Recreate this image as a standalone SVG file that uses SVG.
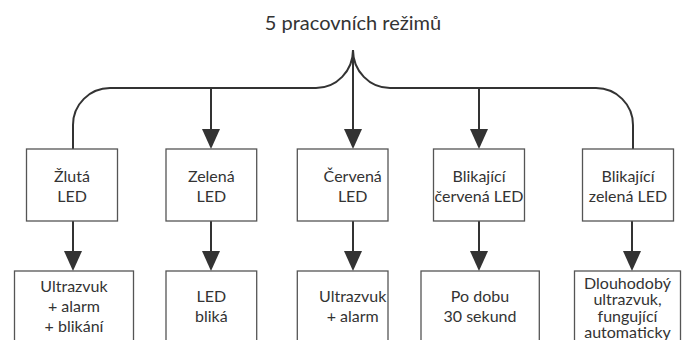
<svg xmlns="http://www.w3.org/2000/svg" width="684" height="340" viewBox="0 0 684 340">
<style>
  .box { fill: #ffffff; stroke: #555555; stroke-width: 1.3; }
  .t { font-family: Lato, "Liberation Sans", sans-serif; font-size: 16px; fill: #333333; text-anchor: middle; }
  .title { font-size: 20px; }
  .c { fill: none; stroke: #333333; stroke-width: 2; }
</style>
<defs>
  <marker id="ah" markerUnits="userSpaceOnUse" markerWidth="22" markerHeight="20" refX="0" refY="9" orient="auto" viewBox="0 0 22 18">
    <path d="M0,0 L20,9 L0,18 Z" fill="#333333"/>
  </marker>
</defs>
<rect width="684" height="340" fill="#ffffff"/>
<text class="t title" x="353" y="30">5 pracovních režimů</text>
<g id="connectors">
  <path class="c" d="M353,50 A37,38 0 0 1 316,88 H110 A37,37 0 0 0 73,125 V149"/>
  <path class="c" d="M353,50 A37,38 0 0 0 390,88 H596 A37,37 0 0 1 633,125 V149"/>
  <path class="c" d="M353,50 V129" marker-end="url(#ah)"/>
  <path class="c" d="M211,88 V129" marker-end="url(#ah)"/>
  <path class="c" d="M479,88 V129" marker-end="url(#ah)"/>
  <path class="c" d="M73,221 V251" marker-end="url(#ah)"/>
  <path class="c" d="M211,221 V251" marker-end="url(#ah)"/>
  <path class="c" d="M353,221 V251" marker-end="url(#ah)"/>
  <path class="c" d="M479,221 V251" marker-end="url(#ah)"/>
  <path class="c" d="M632,221 V251" marker-end="url(#ah)"/>
</g>
<g id="n1">
  <rect class="box" x="26.5" y="149" width="91" height="72"/>
  <text class="t" x="72" y="181.5">Žlutá</text>
  <text class="t" x="72" y="201.5">LED</text>
</g>
<g id="n2">
  <rect class="box" x="166" y="149" width="90.7" height="72"/>
  <text class="t" x="211.3" y="181.5">Zelená</text>
  <text class="t" x="211.3" y="201.5">LED</text>
</g>
<g id="n3">
  <rect class="box" x="297.3" y="149" width="90.7" height="72"/>
  <text class="t" x="352.7" y="181.5">Červená</text>
  <text class="t" x="352.7" y="201.5">LED</text>
</g>
<g id="n4">
  <rect class="box" x="433.5" y="149" width="91" height="72"/>
  <text class="t" x="479" y="181.5">Blikající</text>
  <text class="t" x="479" y="201.5">červená LED</text>
</g>
<g id="n5">
  <rect class="box" x="582.5" y="149" width="91" height="72"/>
  <text class="t" x="628" y="181.5">Blikající</text>
  <text class="t" x="628" y="201.5">zelená LED</text>
</g>
<g id="m1">
  <rect class="box" x="14.5" y="271" width="119" height="90"/>
  <text class="t" x="74" y="292">Ultrazvuk</text>
  <text class="t" x="74" y="312.3">+ alarm</text>
  <text class="t" x="74" y="331.5">+ blikání</text>
</g>
<g id="m2">
  <rect class="box" x="166" y="271" width="90.7" height="90"/>
  <text class="t" x="211.3" y="301.7">LED</text>
  <text class="t" x="211.3" y="322">bliká</text>
</g>
<g id="m3">
  <rect class="box" x="297.3" y="271" width="90.7" height="90"/>
  <text class="t" x="352.7" y="301.7">Ultrazvuk</text>
  <text class="t" x="352.7" y="322">+ alarm</text>
</g>
<g id="m4">
  <rect class="box" x="421" y="271" width="118.3" height="90"/>
  <text class="t" x="480" y="301.7">Po dobu</text>
  <text class="t" x="480" y="322">30 sekund</text>
</g>
<g id="m5">
  <rect class="box" x="574.5" y="271" width="106" height="90"/>
  <text class="t" x="627.5" y="289">Dlouhodobý</text>
  <text class="t" x="627.5" y="305.3">ultrazvuk,</text>
  <text class="t" x="627.5" y="321.7">fungující</text>
  <text class="t" x="627.5" y="338">automaticky</text>
</g>
</svg>
